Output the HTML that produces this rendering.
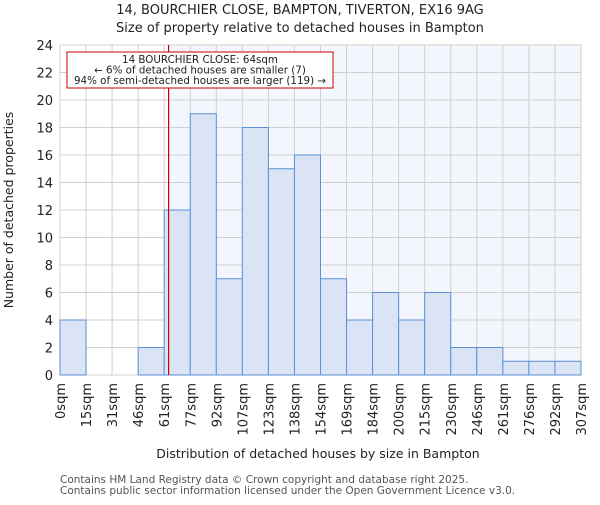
<!DOCTYPE html>
<html><head><meta charset="utf-8"><style>
body{margin:0;background:#fff;}
svg text{font-family:"DejaVu Sans","Liberation Sans",sans-serif;fill:#222;}
</style></head><body>
<svg id="chart" width="600" height="500" xmlns="http://www.w3.org/2000/svg">
<text x="300" y="14" font-size="13" text-anchor="middle">14, BOURCHIER CLOSE, BAMPTON, TIVERTON, EX16 9AG</text>
<text x="300" y="32" font-size="13" text-anchor="middle">Size of property relative to detached houses in Bampton</text>
<g id="plot"></g>
<text transform="translate(13,210) rotate(-90)" font-size="12.5" text-anchor="middle">Number of detached properties</text>
<text x="318" y="458" font-size="12.5" text-anchor="middle">Distribution of detached houses by size in Bampton</text>
<text x="60" y="483" font-size="10.5" style="fill:#555">Contains HM Land Registry data © Crown copyright and database right 2025.</text>
<text x="60" y="494" font-size="10.5" style="fill:#555">Contains public sector information licensed under the Open Government Licence v3.0.</text>
</svg>
<script>
const binLabels=["0sqm","15sqm","31sqm","46sqm","61sqm","77sqm","92sqm","107sqm","123sqm","138sqm","154sqm","169sqm","184sqm","200sqm","215sqm","230sqm","246sqm","261sqm","276sqm","292sqm","307sqm"];
const counts=[4,0,0,2,12,19,7,18,15,16,7,4,6,4,6,2,2,1,1,1];
const yTicks=[0,2,4,6,8,10,12,14,16,18,20,22,24];
const propertySize=64;
const binEdges=[0,15.4,30.7,46.1,61.4,76.8,92.1,107.5,122.8,138.2,153.5,168.9,184.2,199.6,214.9,230.3,245.6,261,276.3,291.7,307];

const L=60,R=581,T=45,B=375,yMax=24;
const g=document.getElementById('plot');
const NS='http://www.w3.org/2000/svg';
const n=counts.length, bw=(R-L)/n;
const xi=i=>L+i*bw;
const y=v=>B-(v/yMax)*(B-T);
function xv(v){for(let i=0;i<binEdges.length-1;i++){if(v<=binEdges[i+1])return xi(i)+(v-binEdges[i])/(binEdges[i+1]-binEdges[i])*bw;}return R;}
function mk(tag,at){const e=document.createElementNS(NS,tag);for(const k in at)e.setAttribute(k,at[k]);g.appendChild(e);return e;}
const rx=xv(propertySize);
let bg=mk('rect',{x:rx,y:T,width:R-rx,height:B-T,fill:'#f3f6fd'});


yTicks.forEach(t=>{
 const l=mk('line',{x1:L,x2:R,y1:y(t),y2:y(t),stroke:'#d0d0d0','stroke-width':1});
 
 
 const tx=mk('text',{x:L-7,y:y(t)+5,'font-size':13,'text-anchor':'end'});tx.textContent=t;
 
 
});
for(let i=0;i<=n;i++){
 const l=mk('line',{x1:xi(i),x2:xi(i),y1:T,y2:B,stroke:'#d0d0d0','stroke-width':1});
 
 
 const tx=mk('text',{transform:`translate(${xi(i)+5},${B+8}) rotate(-90)`,'font-size':13,'text-anchor':'end'});tx.textContent=binLabels[i];
 
 
}
counts.forEach((c,i)=>{
 if(c<=0)return;
 const r=mk('rect',{x:xi(i),y:y(c),width:bw,height:B-y(c),fill:'#dae4f4',stroke:'#5b8fd9','stroke-width':1});
 
 
});
const rl=mk('line',{x1:rx,x2:rx,y1:T,y2:B,stroke:'#cc0000','stroke-width':1.2});


const box=mk('rect',{x:67,y:52,width:266,height:36,fill:'#fff',stroke:'#cc0000','stroke-width':1});


["14 BOURCHIER CLOSE: 64sqm","← 6% of detached houses are smaller (7)","94% of semi-detached houses are larger (119) →"].forEach((s,k)=>{
 const t=mk('text',{x:200,y:63+k*10.5,'font-size':10.3,'text-anchor':'middle'});t.textContent=s;
 
 
});
</script>
</body></html>
